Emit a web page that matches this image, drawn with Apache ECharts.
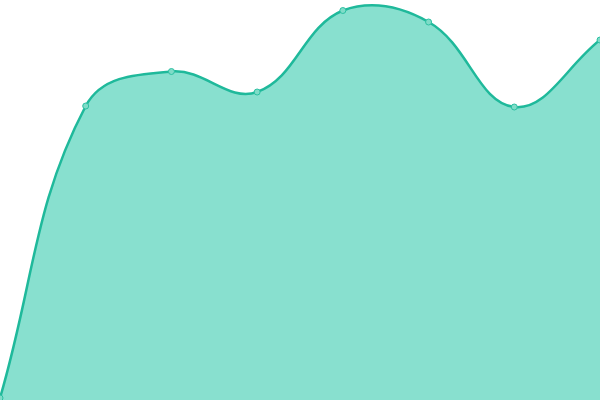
<!DOCTYPE html>
<html><head><meta charset="utf-8">
<script src="https://cdn.jsdelivr.net/npm/echarts@6/dist/echarts.min.js"></script>
<style>html,body{margin:0;padding:0;background:#fff}#c{width:600px;height:400px}</style>
</head><body><div id="c"></div>
<script>
const categories = ['A','B','C','D','E','F','G','H'];
const values = [2, 294, 328.5, 308, 389.5, 378, 293, 360];
const TENSION = 0.4;

const chart = echarts.init(document.getElementById('c'), null, {renderer:'canvas'});

function splinePath(pts, area, bottom, cs) {
  const n = pts.length;
  const cps = pts.map((cur, i) => {
    const prev = pts[Math.max(0, i - 1)], next = pts[Math.min(n - 1, i + 1)];
    const d01 = Math.hypot(cur[0]-prev[0], cur[1]-prev[1]);
    const d12 = Math.hypot(next[0]-cur[0], next[1]-cur[1]);
    let s01 = d01 / (d01 + d12), s12 = d12 / (d01 + d12);
    if (isNaN(s01)) s01 = 0; if (isNaN(s12)) s12 = 0;
    const fa = TENSION * s01, fb = TENSION * s12;
    const clampX = v => Math.min(Math.max(v, cs.x), cs.x + cs.width);
    const clampY = v => Math.min(Math.max(v, cs.y), cs.y + cs.height);
    return {
      p: [clampX(cur[0] - fa*(next[0]-prev[0])), clampY(cur[1] - fa*(next[1]-prev[1]))],
      n: [clampX(cur[0] + fb*(next[0]-prev[0])), clampY(cur[1] + fb*(next[1]-prev[1]))]
    };
  });
  let d = 'M' + pts[0][0] + ' ' + pts[0][1];
  for (let i = 1; i < n; i++) {
    d += ' C' + cps[i-1].n[0] + ' ' + cps[i-1].n[1] + ' ' + cps[i].p[0] + ' ' + cps[i].p[1] + ' ' + pts[i][0] + ' ' + pts[i][1];
  }
  if (area) {
    d += ' L' + pts[n-1][0] + ' ' + bottom + ' L' + pts[0][0] + ' ' + bottom + ' Z';
  }
  return d;
}

chart.setOption({
  animation:false,
  grid:{left:0,right:0,top:0,bottom:0},
  xAxis:{type:'category',data:categories,boundaryGap:false,show:false},
  yAxis:{type:'value',min:0,max:400,show:false},
  series:[{
    type:'custom',
    data:values.map((v,i)=>[i,v]),
    renderItem:function(params, api){
      if (params.dataIndex !== 0) return null;
      const pts = values.map((v,i)=>api.coord([i, v]));
      const bottom = api.coord([0, 0])[1];
      const cs = params.coordSys;
      return {
        type:'group',
        children:[
          {type:'path', shape:{pathData:splinePath(pts, true, bottom, cs)}, style:{fill:'#88e0cf', stroke:null}},
          {type:'path', shape:{pathData:splinePath(pts, false, bottom, cs)}, style:{fill:null, stroke:'#1fb99b', lineWidth:2.5}}
        ]
      };
    }
  },{
    type:'scatter',
    data:values.map((v,i)=>[i,v]),
    symbol:'circle',
    symbolSize:6,
    z:5,
    itemStyle:{color:'#7fdcc8',borderColor:'#2cc0a2',borderWidth:1,opacity:1}
  }]
});
</script></body></html>
